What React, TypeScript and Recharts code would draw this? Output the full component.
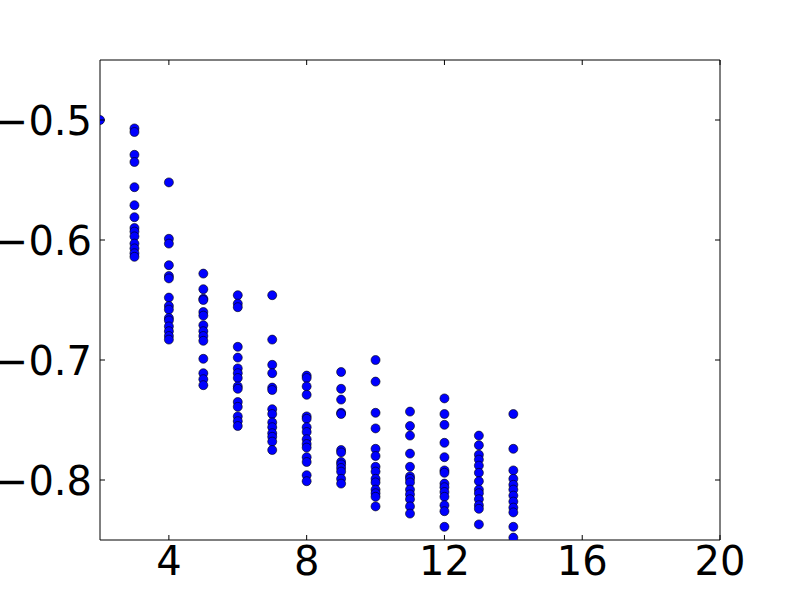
import { ScatterChart, Scatter, XAxis, YAxis } from 'recharts'

// one array of y values per x column
const col2 = [-0.5]
const col3 = [-0.507, -0.51, -0.529, -0.535, -0.556, -0.571, -0.581, -0.59, -0.593, -0.597, -0.603, -0.607, -0.611, -0.614]
const col4 = [-0.552, -0.599, -0.603, -0.621, -0.63, -0.632, -0.648, -0.655, -0.658, -0.665, -0.667, -0.672, -0.676, -0.68, -0.683]
const col5 = [-0.628, -0.641, -0.649, -0.65, -0.66, -0.663, -0.671, -0.676, -0.68, -0.684, -0.699, -0.711, -0.716, -0.721]
const col6 = [-0.646, -0.653, -0.656, -0.689, -0.698, -0.707, -0.711, -0.715, -0.722, -0.724, -0.735, -0.739, -0.747, -0.751, -0.755]
const col7 = [-0.646, -0.683, -0.704, -0.711, -0.723, -0.725, -0.741, -0.745, -0.752, -0.756, -0.761, -0.764, -0.768, -0.775]
const col8 = [-0.713, -0.715, -0.722, -0.729, -0.747, -0.749, -0.756, -0.76, -0.766, -0.77, -0.773, -0.781, -0.785, -0.796, -0.801]
const col9 = [-0.71, -0.724, -0.733, -0.744, -0.745, -0.775, -0.777, -0.785, -0.787, -0.79, -0.793, -0.799, -0.803]
const col10 = [-0.7, -0.718, -0.744, -0.757, -0.774, -0.78, -0.789, -0.793, -0.799, -0.802, -0.808, -0.811, -0.814, -0.822]
const col11 = [-0.743, -0.755, -0.763, -0.778, -0.789, -0.797, -0.799, -0.802, -0.808, -0.812, -0.816, -0.822, -0.828]
const col12 = [-0.732, -0.745, -0.754, -0.769, -0.781, -0.792, -0.794, -0.803, -0.806, -0.81, -0.814, -0.821, -0.826, -0.839]
const col13 = [-0.763, -0.771, -0.779, -0.783, -0.788, -0.794, -0.801, -0.808, -0.811, -0.816, -0.821, -0.824, -0.837]
const col14 = [-0.745, -0.774, -0.792, -0.799, -0.804, -0.808, -0.813, -0.818, -0.823, -0.827, -0.839, -0.848]

const columns: Array<[number, number[]]> = [
  [2, col2], [3, col3], [4, col4], [5, col5], [6, col6], [7, col7], [8, col8],
  [9, col9], [10, col10], [11, col11], [12, col12], [13, col13], [14, col14],
]

const xTicks = [4, 8, 12, 16, 20]
const yTicks = [-0.8, -0.7, -0.6, -0.5]

const points = columns.flatMap(([x, ys]) => ys.map((y) => ({ x, y })))

const font = 'DejaVu Sans'

const fmtY = (v: number) => v.toFixed(1).replace('-', '\u2212')

const BottomTick = ({ x, y, payload }: any) => (
  <g>
    <line x1={x} x2={x} y1={y} y2={y - 5} stroke="#000" />
    <text x={x} y={y + 35} textAnchor="middle" fontSize={40} fontFamily={font} fill="#000">
      {payload.value}
    </text>
  </g>
)

const TopTick = ({ x, y }: any) => <line x1={x} x2={x} y1={y} y2={y + 5} stroke="#000" />

const LeftTick = ({ x, y, payload }: any) => (
  <g>
    <line x1={x} x2={x + 5} y1={y} y2={y} stroke="#000" />
    <text x={x - 8} y={y + 15} textAnchor="end" fontSize={40} fontFamily={font} fill="#000">
      {fmtY(payload.value)}
    </text>
  </g>
)

const RightTick = ({ x, y }: any) => <line x1={x} x2={x - 5} y1={y} y2={y} stroke="#000" />

const Dot = ({ cx, cy }: any) => (
  <circle cx={cx} cy={cy} r={4.5} fill="#0000ff" stroke="#000" strokeWidth={0.6} />
)

const NoDot = () => <g />

export default function App() {
  return (
    <div style={{ position: 'absolute', left: 0, top: 0, background: '#fff' }}>
      <ScatterChart width={800} height={600} margin={{ top: 59, right: 79, bottom: 0, left: 0 }}>
        <XAxis
          dataKey="x"
          type="number"
          domain={[2, 20]}
          ticks={xTicks}
          allowDataOverflow
          height={60}
          tickSize={0}
          tickMargin={0}
          tickLine={false}
          axisLine={{ stroke: '#000' }}
          tick={<BottomTick />}
        />
        <XAxis
          xAxisId="top"
          dataKey="x"
          orientation="top"
          type="number"
          domain={[2, 20]}
          ticks={xTicks}
          allowDataOverflow
          height={1}
          tickSize={0}
          tickMargin={0}
          tickLine={false}
          axisLine={{ stroke: '#000' }}
          tick={<TopTick />}
        />
        <YAxis
          dataKey="y"
          type="number"
          domain={[-0.85, -0.45]}
          ticks={yTicks}
          allowDataOverflow
          width={100}
          tickSize={0}
          tickMargin={0}
          tickLine={false}
          axisLine={{ stroke: '#000' }}
          tick={<LeftTick />}
        />
        <YAxis
          yAxisId="right"
          dataKey="y"
          orientation="right"
          type="number"
          domain={[-0.85, -0.45]}
          ticks={yTicks}
          allowDataOverflow
          width={1}
          tickSize={0}
          tickMargin={0}
          tickLine={false}
          axisLine={{ stroke: '#000' }}
          tick={<RightTick />}
        />
        <Scatter data={points} shape={<Dot />} isAnimationActive={false} />
        <Scatter
          data={points}
          xAxisId="top"
          yAxisId="right"
          shape={<NoDot />}
          legendType="none"
          isAnimationActive={false}
        />
      </ScatterChart>
    </div>
  )
}
